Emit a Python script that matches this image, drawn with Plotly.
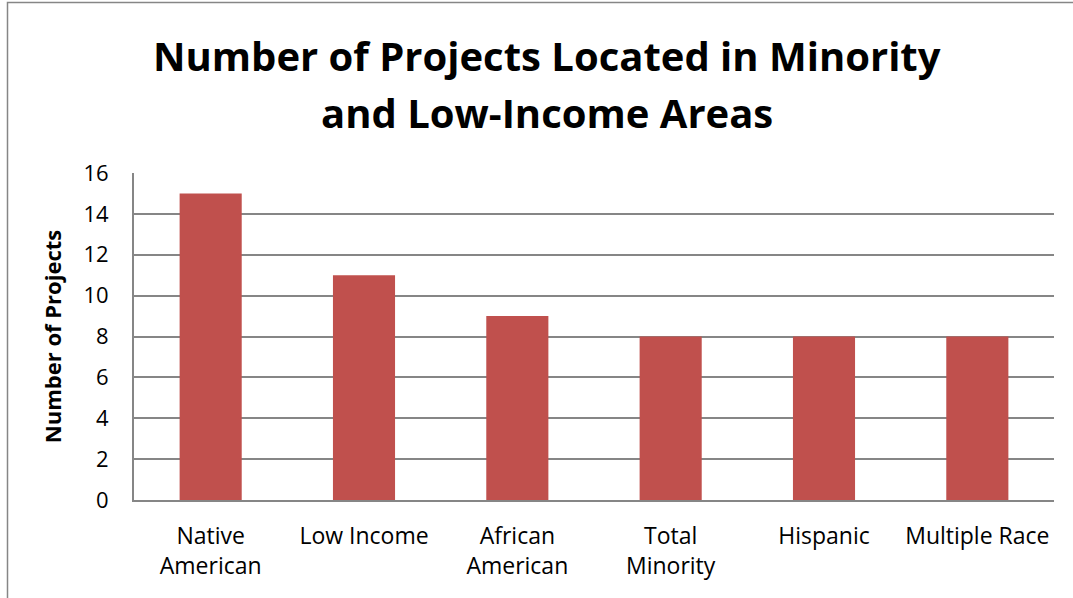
import plotly.graph_objects as go

categories = ["Native<br>American", "Low Income", "African<br>American", "Total<br>Minority", "Hispanic", "Multiple Race"]
values = [15, 11, 9, 8, 8, 8]
y_ticks = [0, 2, 4, 6, 8, 10, 12, 14, 16]

title_lines = ["Number of Projects Located in Minority", "and Low-Income Areas"]
y_title = "Number of Projects"

bar_color = "#C0504D"
grid_color = "#868686"
font_family = "'Open Sans', Lato, sans-serif"

fig = go.Figure(
    go.Bar(
        x=categories,
        y=values,
        marker=dict(color=bar_color, line=dict(width=0)),
    )
)

title_y_px = [55, 112]
annotations = [
    dict(
        text="<b>" + line + "</b>",
        xref="paper",
        yref="paper",
        x=(546.5 - 134) / 920,
        y=(500 - ypx) / 327,
        xanchor="center",
        yanchor="middle",
        showarrow=False,
        font=dict(size=40, family=font_family, color="black"),
    )
    for line, ypx in zip(title_lines, title_y_px)
]

fig.update_layout(
    width=1073,
    height=598,
    margin=dict(l=134, r=19, t=173, b=98),
    paper_bgcolor="white",
    plot_bgcolor="white",
    bargap=0.595,
    showlegend=False,
    font=dict(family=font_family, color="black"),
    annotations=annotations,
    xaxis=dict(
        showline=True,
        linecolor=grid_color,
        linewidth=2,
        tickfont=dict(size=23),
        ticks="",
        ticklabelstandoff=14,
        automargin=False,
    ),
    yaxis=dict(
        range=[0, 16],
        tickvals=y_ticks,
        showgrid=True,
        gridcolor=grid_color,
        gridwidth=1.5,
        showline=True,
        linecolor=grid_color,
        linewidth=2,
        zeroline=False,
        ticks="",
        tickfont=dict(size=22),
        ticklabelstandoff=19,
        automargin=False,
        title=dict(text="<b>" + y_title + "</b>", font=dict(size=22), standoff=16),
    ),
    shapes=[
        dict(
            type="rect",
            xref="paper",
            yref="paper",
            x0=(7.5 - 134) / 920,
            x1=1.1,
            y0=-0.4,
            y1=(500 - 2.5) / 327,
            line=dict(color="#868686", width=1.5),
            fillcolor="rgba(0,0,0,0)",
            layer="below",
        )
    ],
)

fig.write_html(
    "out.html",
    config={"displayModeBar": False},
    post_script="document.body.style.margin='0';document.body.style.overflow='hidden';",
)
